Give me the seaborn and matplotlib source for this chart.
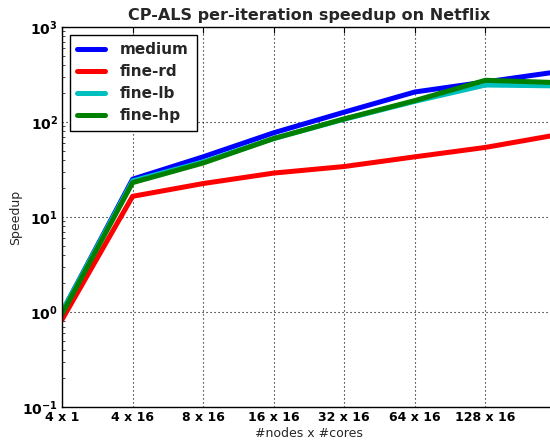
import math
import matplotlib
matplotlib.use("Agg")
import matplotlib.pyplot as plt
import seaborn as sns
import pandas as pd
from matplotlib.ticker import FixedLocator, FuncFormatter, LogLocator, NullFormatter

# Per-iteration speedup of CP-ALS on Netflix for each decomposition scheme
categories = ["4 x 1", "4 x 16", "8 x 16", "16 x 16", "32 x 16", "64 x 16", "128 x 16", "256 x 16"]
tick_labels = ["4 x 1", "4 x 16", "8 x 16", "16 x 16", "32 x 16", "64 x 16", "128 x 16"]
medium = [1.0, 25, 43, 77, 127, 207, 264, 336]
fine_rd = [0.83, 16.5, 22.5, 29, 34, 43, 54, 73]
fine_lb = [1.0, 24, 38, 67, 107, 165, 245, 240]
fine_hp = [0.95, 23, 37, 67, 108, 168, 275, 260]

series = {"medium": medium, "fine-rd": fine_rd, "fine-lb": fine_lb, "fine-hp": fine_hp}
palette = {"medium": (0, 0, 1), "fine-rd": (1, 0, 0), "fine-lb": (0, 0.75, 0.75), "fine-hp": (0, 0.5, 0)}

rows = []
for name, vals in series.items():
    for i, v in enumerate(vals):
        rows.append({"pos": i, "config": categories[i], "scheme": name, "speedup": v})
df = pd.DataFrame(rows)

sns.set_style("white")
plt.rcParams["font.family"] = ["DejaVu Sans"]

fig = plt.figure(figsize=(5.5, 4.42), dpi=100)
ax = fig.add_axes([62 / 550, 35 / 442, 494 / 550, 380 / 442])

sns.lineplot(data=df, x="pos", y="speedup", hue="scheme", palette=palette,
             hue_order=list(series.keys()), linewidth=3.6, ax=ax, legend=True)

ax.set_yscale("log")
ax.set_ylim(0.1, 1000)
ax.set_xlim(0, 7)

ax.xaxis.set_major_locator(FixedLocator(range(len(tick_labels))))
ax.set_xticklabels(tick_labels, fontsize=9, fontweight="bold")
ax.yaxis.set_major_locator(LogLocator(base=10, numticks=10))
ax.yaxis.set_major_formatter(FuncFormatter(lambda v, p: r"$\mathbf{10^{%d}}$" % round(math.log10(v))))
ax.yaxis.set_minor_locator(LogLocator(base=10, subs=range(2, 10), numticks=10))
ax.yaxis.set_minor_formatter(NullFormatter())
for lab in ax.get_yticklabels():
    lab.set_fontsize(10)

ax.tick_params(axis="both", which="major", direction="in", length=4, width=0.8,
               top=True, right=True, pad=3, colors="black")
ax.tick_params(axis="y", which="minor", direction="in", length=2, width=0.6, left=True, right=True)

ax.grid(True, which="major", color="black", linestyle=(0, (1, 2.6)), linewidth=0.8)
for s in ax.spines.values():
    s.set_color("black")
    s.set_linewidth(1.0)

ax.set_title("CP-ALS per-iteration speedup on Netflix", fontsize=11.5, fontweight="bold", pad=5)
ax.set_xlabel("#nodes x #cores", fontsize=9, labelpad=2)
ax.set_ylabel("Speedup", fontsize=9)
ax.yaxis.set_label_coords(-40 / 494, 0.5)

handles, labels = ax.get_legend_handles_labels()
leg = ax.legend(handles, labels, loc="upper left", prop={"weight": "bold", "size": 11},
                frameon=True, fancybox=False, edgecolor="black", framealpha=1,
                handlelength=1.8, borderpad=0.5, labelspacing=0.45, handletextpad=1.0,
                borderaxespad=0.5)
leg.get_frame().set_linewidth(1.0)
for line in leg.get_lines():
    line.set_linewidth(3.6)

fig.savefig("out.png", dpi=100)
